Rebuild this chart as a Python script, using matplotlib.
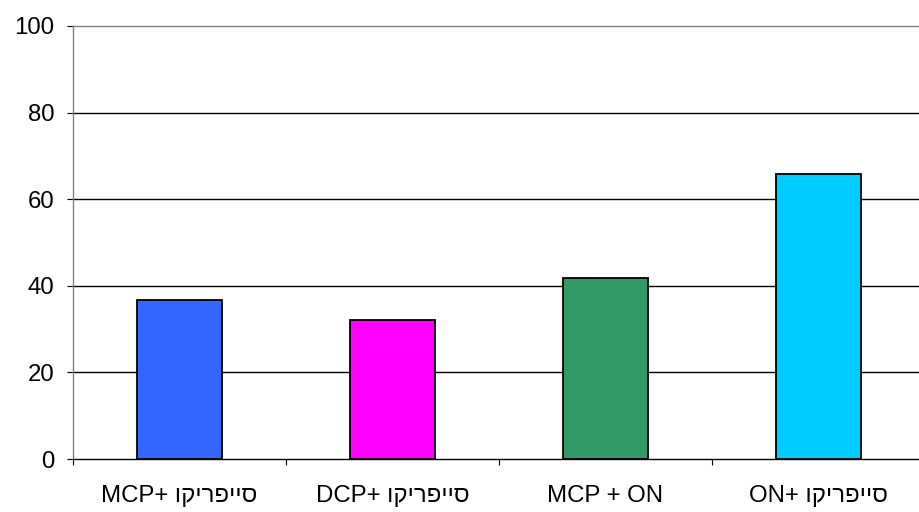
import matplotlib
matplotlib.use("Agg")
import matplotlib.pyplot as plt
import numpy as np

plt.rcParams['font.family'] = ['Liberation Sans', 'DejaVu Sans']

# Hebrew word written in display (left-to-right) order
heb = "וקירפייס"
categories = ["MCP+ " + heb, "DCP+ " + heb, "MCP + ON", "ON+ " + heb]
values = [36.7, 32.1, 41.8, 65.8]
colors = ["#3366FF", "#FF00FF", "#339966", "#00CCFF"]
yticks = [0, 20, 40, 60, 80, 100]

fig = plt.figure(figsize=(9.2, 5.12), dpi=100)
ax = fig.add_axes([73/920, 53/512, 852/920, 433/512])

x = np.arange(len(categories))
ax.bar(x, values, width=0.4, color=colors, edgecolor="black", linewidth=1.3, zorder=3)

ax.set_xlim(-0.5, len(categories) - 0.5)
ax.set_ylim(0, 100)
ax.set_yticks(yticks)
ax.set_yticklabels([str(v) for v in yticks], fontsize=17.3)
for v in yticks[1:-1]:
    ax.axhline(v, color="black", linewidth=1.0, zorder=1)

ax.set_xticks(x)
ax.set_xticklabels(categories, fontsize=17.3)
ax.tick_params(axis="x", which="major", length=0, pad=18.5)
ax.set_xticks(np.arange(len(categories) + 1) - 0.5, minor=True)
ax.tick_params(axis="x", which="minor", length=4.5, width=0.8, color="black")
ax.tick_params(axis="y", length=4.5, width=0.8, pad=9, color="black")

for side in ["top", "left"]:
    ax.spines[side].set_color("#808080")
    ax.spines[side].set_linewidth(1.0)
ax.spines["right"].set_visible(False)
ax.spines["bottom"].set_color("black")
ax.spines["bottom"].set_linewidth(1.0)

fig.savefig("out.png", dpi=100)
